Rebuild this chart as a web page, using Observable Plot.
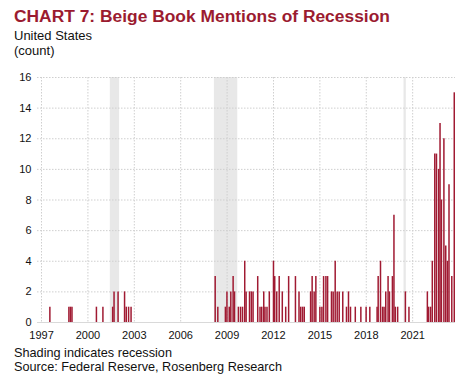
<!DOCTYPE html>
<html>
<head>
<meta charset="utf-8">
<script src="https://cdn.jsdelivr.net/npm/d3@7"></script>
<script src="https://cdn.jsdelivr.net/npm/@observablehq/plot@0.6"></script>
<style>
  html, body { margin: 0; padding: 0; background: #fff; }
  body { width: 467px; height: 381px; position: relative; overflow: hidden; font-family: "Liberation Sans", Arial, sans-serif; color: #111; }
  #title { position: absolute; left: 14px; top: 5px; font-size: 17.4px; line-height: 22px; font-weight: bold; color: #9b1b30; white-space: nowrap; }
  #subtitle { position: absolute; left: 14px; top: 28px; font-size: 13px; line-height: 15px; }
  #chart { position: absolute; left: 0; top: 66px; }
  #caption { position: absolute; left: 14px; top: 345.5px; font-size: 12.7px; line-height: 14px; }
</style>
</head>
<body>
<div id="title">CHART 7: Beige Book Mentions of Recession</div>
<div id="subtitle">United States<br>(count)</div>
<div id="chart"></div>
<div id="caption">Shading indicates recession<br>Source: Federal Reserve, Rosenberg Research</div>
<script>
// Beige Book release dates (decimal years) with nonzero mentions
const releaseYears = [
  1997.54, 1998.77, 1998.87, 1998.97, 2000.55, 2000.97,
  2001.60, 2001.69, 2001.95, 2002.37, 2002.48, 2002.63, 2002.79,
  2008.23, 2008.40, 2008.89, 2008.99, 2009.14, 2009.24, 2009.39, 2009.48, 2009.73, 2009.87,
  2010.00, 2010.14, 2010.23, 2010.45, 2010.57, 2010.68, 2010.98,
  2011.13, 2011.24, 2011.37, 2011.45, 2011.58, 2011.73,
  2012.00, 2012.08, 2012.21, 2012.37, 2012.57, 2012.79, 2012.98,
  2013.42, 2013.65, 2013.76, 2013.88, 2013.99,
  2014.40, 2014.50, 2014.63, 2014.74,
  2015.00, 2015.13, 2015.24, 2015.39, 2015.50, 2015.75, 2015.86, 2015.99,
  2016.12, 2016.25, 2016.48, 2016.72, 2016.85, 2016.98,
  2017.29, 2017.65, 2017.99,
  2018.23, 2018.70, 2018.77, 2018.92,
  2019.05, 2019.15, 2019.26, 2019.41, 2019.50, 2019.69, 2019.79, 2019.88,
  2020.03, 2020.53, 2020.76,
  2021.95, 2022.03, 2022.16, 2022.27, 2022.43, 2022.54, 2022.68, 2022.77, 2022.86,
  2023.02, 2023.14, 2023.25, 2023.35, 2023.53, 2023.69
];
const mentionCounts = [
  1, 1, 1, 1, 1, 1,
  1, 2, 2, 2, 1, 1, 1,
  3, 1, 1, 2, 1, 2, 3, 2, 1, 1,
  1, 4, 2, 2, 2, 2, 3,
  1, 1, 2, 1, 1, 2,
  4, 3, 2, 3, 2, 1, 3,
  3, 2, 1, 1, 1,
  2, 3, 2, 3,
  1, 1, 3, 3, 3, 2, 2, 4,
  2, 2, 2, 1, 2, 1,
  1, 1, 1,
  1, 1, 3, 4,
  1, 1, 2, 3, 2, 3, 7, 1,
  1, 2, 1,
  2, 1, 1, 4, 11, 11, 10, 13, 8,
  12, 5, 4, 9, 3, 15
];
// Recession shading periods as drawn (decimal years)
const recessionStarts = [2001.45, 2008.18, 2020.44];
const recessionEnds   = [2002.05, 2009.69, 2020.59];
// Axis ticks
const xTickYears = [1997, 2000, 2003, 2006, 2009, 2012, 2015, 2018, 2021];
const yTickValues = [0, 2, 4, 6, 8, 10, 12, 14, 16];

const data = releaseYears.map((y, i) => ({year: y, count: mentionCounts[i]}));
const recessions = recessionStarts.map((s, i) => ({start: s, end: recessionEnds[i]}));

const barColor = "#a01a32";
const gridColor = "#cfcfcf";

const chart = Plot.plot({
  width: 467,
  height: 277,
  marginLeft: 37,
  marginRight: 12,
  marginTop: 11,
  marginBottom: 21,
  style: {fontFamily: "Liberation Sans, Arial, sans-serif", fontSize: "11px", color: "#111", background: "transparent"},
  x: {domain: [1996.74, 2023.77], ticks: xTickYears, tickFormat: d => String(d), tickSize: 0, tickPadding: 9, label: null},
  y: {domain: [0, 16], ticks: yTickValues, tickSize: 0, tickPadding: 6, label: null},
  marks: [
    Plot.rect(recessions, {x1: "start", x2: "end", fill: "#e8e8e8"}),
    Plot.gridY(yTickValues, {stroke: gridColor, strokeOpacity: 1, strokeDasharray: "1.5,1.5"}),
    Plot.gridX(xTickYears, {stroke: gridColor, strokeOpacity: 1, strokeDasharray: "1.5,1.5"}),
    Plot.ruleY([0], {stroke: "#d9d9d9"}),
    Plot.ruleX(data, {x: "year", y: "count", stroke: barColor, strokeWidth: 1.5}),
    Plot.axisX({ticks: xTickYears, tickFormat: d => String(d), tickSize: 0, tickPadding: 9}),
    Plot.axisY({ticks: yTickValues, tickSize: 0, tickPadding: 6})
  ]
});
document.getElementById("chart").appendChild(chart);
</script>
</body>
</html>
